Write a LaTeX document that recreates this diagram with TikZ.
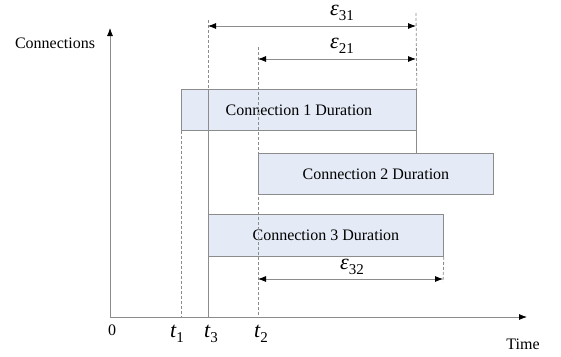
\documentclass[tikz,border=0pt]{standalone}
\usepackage{fontspec}
\setmainfont{Liberation Serif}
\usetikzlibrary{arrows.meta}
\definecolor{boxfill}{HTML}{E4EBF6}
\definecolor{lgray}{HTML}{8C8C8C}
\tikzset{
  ln/.style={draw=lgray, line width=0.8pt},
  dsh/.style={draw=lgray, line width=0.8pt, dash pattern=on 3pt off 2pt},
  tip/.style={-{Latex[length=8pt,width=6pt,black]}},
  dtip/.style={{Latex[length=8pt,width=6pt,black]}-{Latex[length=8pt,width=6pt,black]}},
  dur/.style={draw=lgray, fill=boxfill, line width=0.8pt, inner sep=0pt, font=\fontsize{16}{18}\selectfont},
  lbl/.style={inner sep=0pt, font=\fontsize{16}{18}\selectfont},
  sym/.style={inner sep=0pt, font=\fontsize{22}{24}\selectfont},
}
\newcommand{\sub}[1]{\raisebox{-0.45ex}{\upshape\fontsize{15}{17}\selectfont #1}}
\begin{document}
\begin{tikzpicture}[x=1pt,y=-1pt]
\useasboundingbox (0,0) rectangle (561,356);
% axes
\coordinate (O) at (110,317);
\coordinate (ytop) at (110,28);
\coordinate (xend) at (527,317);
\draw[ln,tip] (O) -- (ytop);
\draw[ln,tip] (O) -- (xend);
\node[lbl] (ylab) at (55,43) {Connections};
\node[lbl] (xlab) at (523,344) {Time};
\node[lbl] (zero) at (112,330) {0};
% boxes
\node[dur, minimum width=235pt, minimum height=41pt, anchor=north west] (b1) at (181,89) {Connection 1 Duration};
\node[dur, minimum width=235pt, minimum height=41pt, anchor=north west] (b2) at (258,153) {Connection 2 Duration};
\node[dur, minimum width=235pt, minimum height=42pt, anchor=north west] (b3) at (208,214) {Connection 3 Duration};
% coordinates
\coordinate (t1b) at (181,317);
\coordinate (t3top) at (208,20);
\coordinate (t3mid) at (208,89);
\coordinate (t3b) at (208,317);
\coordinate (t2top) at (258,47);
\coordinate (t2b) at (258,317);
\coordinate (r1top) at (416,13);
\coordinate (r3b) at (443,282);
% vertical lines
\draw[dsh] (b1.south west) -- (t1b);
\draw[dsh] (t3top) -- (t3mid);
\draw[ln] (t3mid) -- (t3b);
\draw[dsh] (t2top) -- (t2b);
\draw[dsh] (r1top) -- (b1.north east);
\draw[ln] (b1.south east) -- (b1.south east |- b2.north);
\draw[dsh] (b3.south east) -- (r3b);
% epsilon arrows
\coordinate (e31l) at (208,26);
\coordinate (e31r) at (416,26);
\coordinate (e21l) at (258,59);
\coordinate (e21r) at (416,59);
\coordinate (e32l) at (258,279);
\coordinate (e32r) at (443,279);
\draw[ln,dtip] (e31l) -- (e31r);
\draw[ln,dtip] (e21l) -- (e21r);
\draw[ln,dtip] (e32l) -- (e32r);
\node[sym] (l31) at (342,13) {\itshape ε\sub{31}};
\node[sym] (l21) at (342,46) {\itshape ε\sub{21}};
\node[sym] (l32) at (352,267) {\itshape ε\sub{32}};
% time labels
\node[sym] (t1) at (177,334) {\itshape t\sub{1}};
\node[sym] (t3) at (211,334) {\itshape t\sub{3}};
\node[sym] (t2) at (261,334) {\itshape t\sub{2}};
\end{tikzpicture}
\end{document}
